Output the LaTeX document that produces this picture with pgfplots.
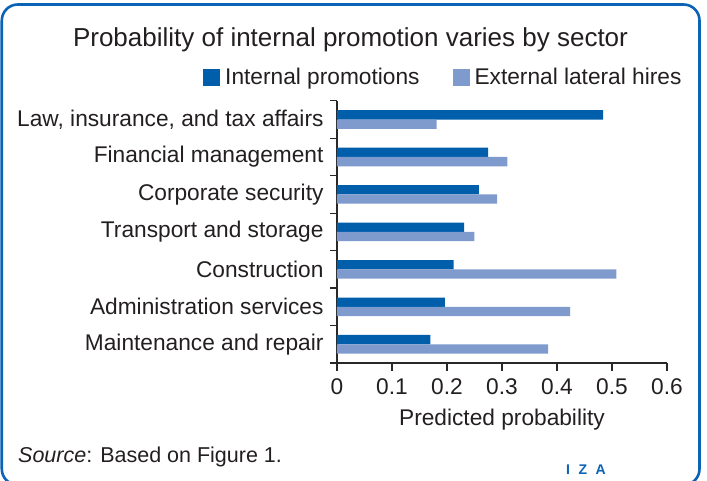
\documentclass[border=0pt]{standalone}
\usepackage{pgfplots}
\pgfplotsset{compat=1.18}
\usepackage{fontspec}
\setmainfont{Liberation Sans}
\definecolor{intblue}{RGB}{0,94,171}
\definecolor{extblue}{RGB}{127,155,206}
\definecolor{izablue}{RGB}{10,99,181}
\definecolor{txt}{RGB}{35,31,32}
\definecolor{axcol}{RGB}{40,40,40}
\begin{document}
\begin{tikzpicture}[x=1pt,y=1pt]
\color{txt}
\begin{axis}[
  at={(337pt,118pt)}, anchor=south west,
  scale only axis, width=330pt, height=262.2pt,
  xmin=0, xmax=0.6, ymin=-0.5, ymax=6.5,
  axis x line*=bottom, axis y line*=left,
  axis line style={axcol, line width=1.2pt},
  tick style={axcol, line width=1.2pt},
  tick align=outside,
  major tick length=8pt, minor tick length=7pt,
  every major y tick/.append style={draw=none},
  xtick={0,0.1,0.2,0.3,0.4,0.5,0.6},
  xticklabels={0,0.1,0.2,0.3,0.4,0.5,0.6},
  ytick={0,1,2,3,4,5,6},
  yticklabels={Maintenance and repair, Administration services, Construction, Transport and storage, Corporate security, Financial management, {Law, insurance, and tax affairs}},
  minor ytick={-0.5,0.5,1.5,2.5,3.5,4.5,5.5,6.5},
  tick label style={font=\fontsize{22.7}{27}\selectfont, text=txt},
  xticklabel style={yshift=-4pt},
  yticklabel style={xshift=-2pt},
  xlabel={Predicted probability},
  xlabel style={font=\fontsize{22.7}{27}\selectfont, text=txt, yshift=-8pt},
  legend columns=2,
  legend style={draw=none, fill=none, font=\fontsize{22.7}{27}\selectfont, text=txt,
     at={(-0.406,1.049)}, anchor=south west, inner sep=0pt,
     nodes={inner xsep=5pt},
     /tikz/every even column/.append style={column sep=28pt}},
  legend image code/.code={\fill[#1,draw=none] (0pt,-9.5pt) rectangle (17pt,7.5pt);},
  bar width=9.3pt,
]
\addplot[xbar, fill=intblue, draw=none, bar shift=4.65pt] coordinates {
 (0.170,0) (0.196,1) (0.212,2) (0.231,3) (0.258,4) (0.275,5) (0.484,6)};
\addlegendentry{Internal promotions}
\addplot[xbar, fill=extblue, draw=none, bar shift=-4.65pt] coordinates {
 (0.384,0) (0.424,1) (0.508,2) (0.250,3) (0.291,4) (0.310,5) (0.181,6)};
\addlegendentry{External lateral hires}
\end{axis}
\node[anchor=base, font=\fontsize{26}{30}\selectfont, text=txt] at (350.5,434) {Probability of internal promotion varies by sector};
\node[anchor=base west, inner sep=0pt, font=\fontsize{21.5}{25}\selectfont, text=txt] at (18,18.3) {\textit{Source}: Based on Figure 1.};
\node[anchor=base west, inner sep=0pt, font=\bfseries\fontsize{14}{16}\selectfont, text=izablue] at (566,6) {I\hspace{8.5pt}Z\hspace{8.5pt}A};
\draw[izablue, line width=2.6pt, rounded corners=16pt] (1.8,476.5) rectangle (699.5,-4);
\pgfresetboundingbox
\useasboundingbox (0,0) rectangle (707,481);
\end{tikzpicture}
\end{document}
